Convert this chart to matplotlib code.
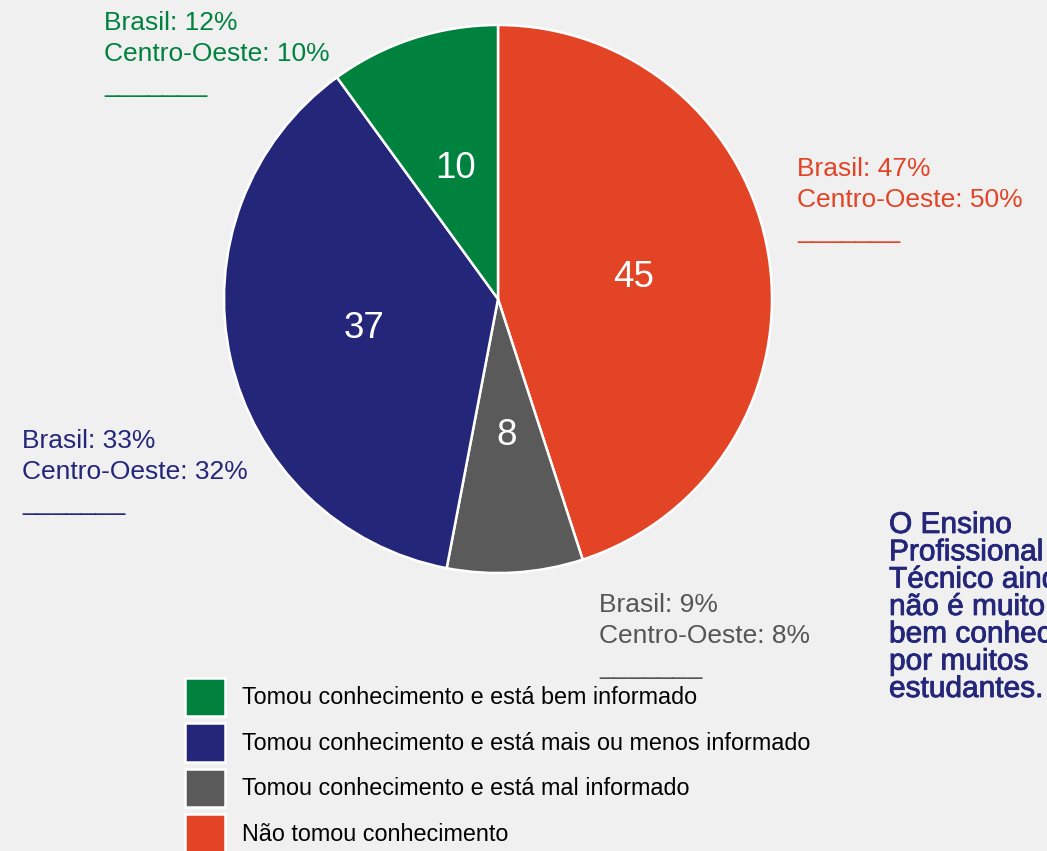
import matplotlib
matplotlib.use("Agg")
import matplotlib.pyplot as plt
import matplotlib.patheffects as pe

plt.rcParams['font.family'] = ['Liberation Sans', 'DejaVu Sans']

# Data (clockwise from 12 o'clock)
categories = ["Não tomou conhecimento",
              "Tomou conhecimento e está mal informado",
              "Tomou conhecimento e está mais ou menos informado",
              "Tomou conhecimento e está bem informado"]
values = [45, 8, 37, 10]
colors = ["#e34426", "#5a5a5a", "#24267a", "#00823f"]
brasil = [47, 9, 33, 12]
centro_oeste = [50, 8, 32, 10]
legend_order = [3, 2, 1, 0]
note = "O Ensino\nProfissional\nTécnico ainda\nnão é muito\nbem conhecido\npor muitos\nestudantes."

W, H = 1047, 851
fig = plt.figure(figsize=(W / 100, H / 100), dpi=100)
fig.patch.set_facecolor("#f0f0f0")

cx, cy, r = 498, 299, 274
ax = fig.add_axes([(cx - r) / W, (H - cy - r) / H, 2 * r / W, 2 * r / H])
ax.set_facecolor("none")
wedges, texts = ax.pie(values, colors=colors, startangle=90, counterclock=False,
                       labels=[str(v) for v in values], labeldistance=0.5,
                       wedgeprops=dict(edgecolor="white", linewidth=1.8),
                       textprops=dict(color="white", fontsize=26.5,
                                      ha="center", va="center"))
ax.set_xlim(-1, 1)
ax.set_ylim(-1, 1)
ax.set_aspect("equal")
ax.axis("off")

# Outer annotation labels (pixel positions: left x, last-line baseline y)
label_pos = [(797, 238), (599, 674), (22, 510), (104, 92)]
label_colors = ["#e34426", "#555555", "#24267a", "#00823f"]
for (px, py), b, c, col in zip(label_pos, brasil, centro_oeste, label_colors):
    fig.text(px / W, 1 - py / H, f"Brasil: {b}%\nCentro-Oeste: {c}%\n_______",
             color=col, fontsize=19, ha="left", va="baseline", linespacing=1.37)

# Legend
handles = [wedges[i] for i in legend_order]
labels = [categories[i] for i in legend_order]
fig.legend(handles, labels, loc="upper left",
           bbox_to_anchor=(185 / W, 1 - 678 / H), bbox_transform=fig.transFigure,
           frameon=False, fontsize=16.8, handlelength=1.7, handleheight=2.13,
           handletextpad=0.76, labelspacing=0.32, borderpad=0, borderaxespad=0)

# Side note
fig.text(889 / W, 1 - 697 / H, note, color="#24267a", fontsize=21.5,
         ha="left", va="baseline", linespacing=0.97,
         path_effects=[pe.withStroke(linewidth=0.6, foreground="#24267a")])

fig.savefig("out.png", dpi=100, facecolor=fig.get_facecolor())
